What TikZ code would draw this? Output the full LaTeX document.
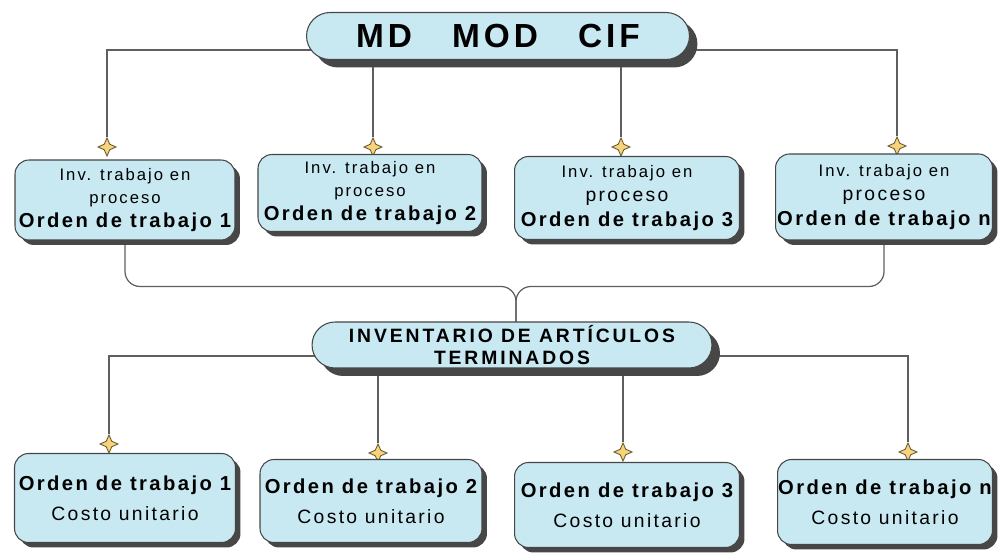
\documentclass[tikz,border=0pt]{standalone}
\usepackage{fontspec}
\setmainfont{Liberation Sans}[LetterSpace=12]
\usetikzlibrary{shapes.geometric,shapes.misc,shadows,backgrounds}

\definecolor{boxfill}{RGB}{200,233,242}
\definecolor{boxline}{RGB}{70,70,70}
\definecolor{starfill}{RGB}{247,212,122}
\definecolor{starline}{RGB}{105,90,50}
\definecolor{linkgray}{RGB}{95,95,95}

\newcommand\smtxt{\fontsize{9.5}{12.5}\selectfont}
\newcommand\protxt{\fontsize{11}{14}\selectfont}
\newcommand\bftxt{\fontsize{11.5}{14}\selectfont\bfseries}

\tikzset{
  box/.style={draw=boxline, line width=0.6pt, fill=boxfill, rounded corners=0.28cm,
    align=center, inner sep=0pt,
    drop shadow={shadow xshift=0.1cm, shadow yshift=-0.1cm, fill=black!72, opacity=1}},
  pill/.style={draw=boxline, line width=0.6pt, fill=boxfill, rounded rectangle,
    align=center, inner sep=0pt,
    drop shadow={shadow xshift=0.16cm, shadow yshift=-0.16cm, fill=black!72, opacity=1}},
  spark/.style={star, star points=4, star point ratio=2.3, minimum size=0.36cm,
    inner sep=0pt, fill=starfill, draw=starline, line width=0.5pt},
  link/.style={draw=linkgray, line width=0.7pt}
}

\begin{document}
\begin{tikzpicture}[x=0.02cm, y=-0.02cm]
\useasboundingbox (0,0) rectangle (1003,553);

% top
\node[pill, minimum width=7.66cm, minimum height=0.94cm] (md) at (498,36)
  {\fontsize{19}{22}\selectfont\bfseries MD\hspace{0.8cm}MOD\hspace{0.8cm}CIF};

\node[spark] (s1) at (107,147) {};
\node[spark] (s2) at (373,147) {};
\node[spark] (s3) at (621,147) {};
\node[spark] (s4) at (897,146) {};

\node[box, minimum width=4.4cm, minimum height=1.6cm] (w1) at (125,200)
  {\smtxt Inv. trabajo en\\[1.5pt]\smtxt proceso\\[1.5pt]\bftxt Orden de trabajo 1};
\node[box, minimum width=4.48cm, minimum height=1.54cm] (w2) at (370,193)
  {\smtxt Inv. trabajo en\\[1.5pt]\smtxt proceso\\[1.5pt]\bftxt Orden de trabajo 2};
\node[box, minimum width=4.5cm, minimum height=1.66cm] (w3) at (627,198)
  {\smtxt Inv. trabajo en\\[2pt]\protxt proceso\\[2pt]\bftxt Orden de trabajo 3};
\node[box, minimum width=4.34cm, minimum height=1.72cm] (w4) at (884,197)
  {\smtxt Inv. trabajo en\\[2pt]\protxt proceso\\[2pt]\bftxt Orden de trabajo n};

% middle
\node[pill, minimum width=8cm, minimum height=0.92cm] (inv) at (512,345)
  {\fontsize{11}{12.5}\selectfont\bfseries\addfontfeature{LetterSpace=15}INVENTARIO DE ARTÍCULOS\\[0.5pt]
   \fontsize{11}{12.5}\selectfont\bfseries\addfontfeature{LetterSpace=15}TERMINADOS};
\coordinate (m) at ([xshift=0.08cm, yshift=0.7cm]inv.north);

\node[spark] (t1) at (109,444) {};
\node[spark] (t2) at (378,453) {};
\node[spark] (t3) at (623,452) {};
\node[spark] (t4) at (908,452) {};

\node[box, minimum width=4.42cm, minimum height=1.78cm] (c1) at (125,498)
  {\bftxt Orden de trabajo 1\\[5pt]\protxt Costo unitario};
\node[box, minimum width=4.44cm, minimum height=1.66cm] (c2) at (371,501)
  {\bftxt Orden de trabajo 2\\[5pt]\protxt Costo unitario};
\node[box, minimum width=4.5cm, minimum height=1.7cm] (c3) at (627,505)
  {\bftxt Orden de trabajo 3\\[5pt]\protxt Costo unitario};
\node[box, minimum width=4.3cm, minimum height=1.7cm] (c4) at (885,502)
  {\bftxt Orden de trabajo n\\[5pt]\protxt Costo unitario};

\begin{scope}[on background layer]
  \draw[link] ([yshift=-0.28cm]md.center) -| (s1.north);
  \draw[link] ([yshift=-0.28cm]md.center) -| (s4.north);
  \draw[link] (md.center -| s2.north) -- (s2.north);
  \draw[link] (md.center -| s3.north) -- (s3.north);

  \draw[link, rounded corners=0.3cm] (w1.south) |- (m) -- (m |- inv.center);
  \draw[link, rounded corners=0.3cm] (w4.south) |- (m) -- (m |- inv.center);

  \draw[link] ([yshift=-0.22cm]inv.center) -| (t1.north);
  \draw[link] ([yshift=-0.22cm]inv.center) -| (t4.north);
  \draw[link] (inv.center -| t2.north) -- (t2.north);
  \draw[link] (inv.center -| t3.north) -- (t3.north);
\end{scope}
\end{tikzpicture}
\end{document}
